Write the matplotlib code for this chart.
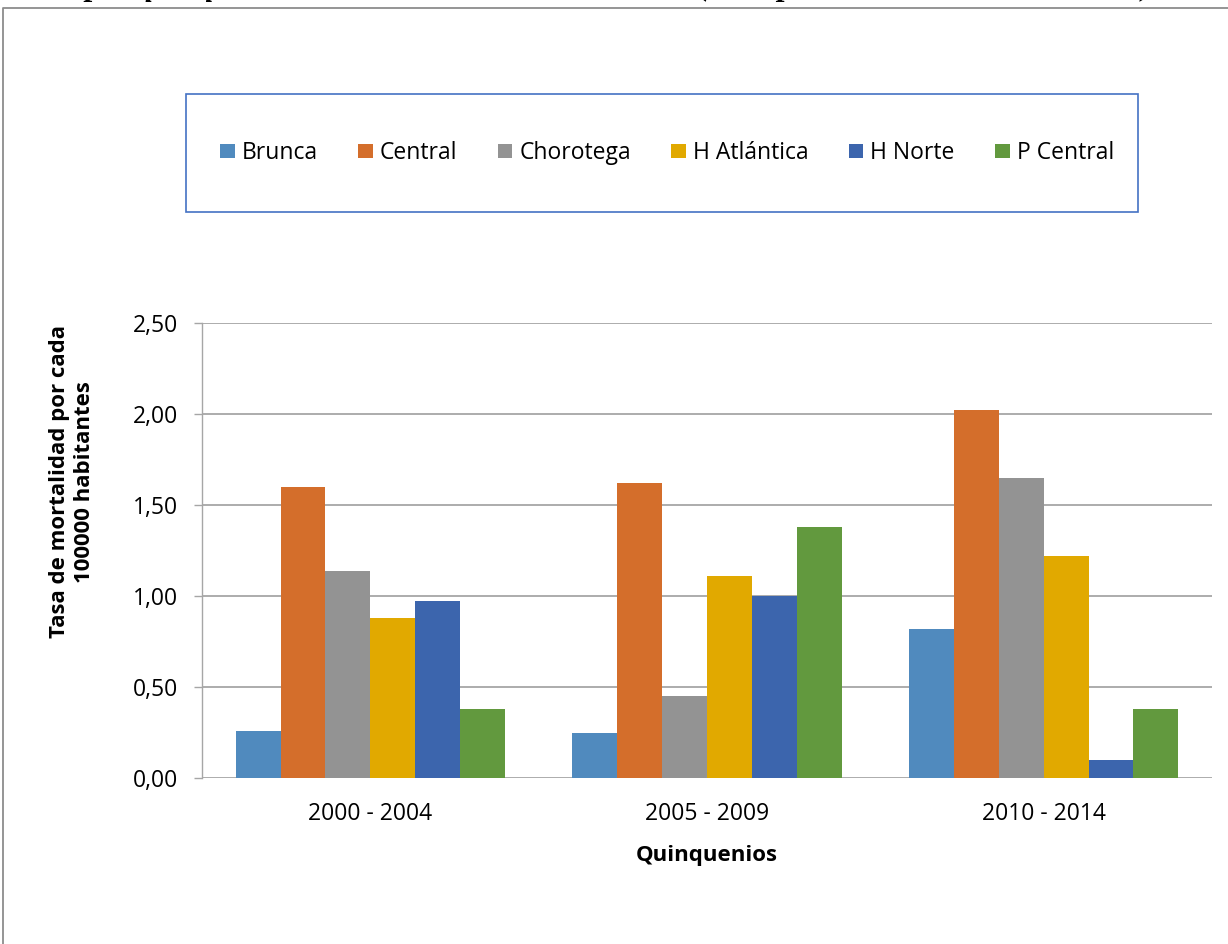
import matplotlib
matplotlib.use("Agg")
import matplotlib.pyplot as plt
import numpy as np
from matplotlib.patches import Rectangle
from matplotlib.lines import Line2D

# --- DATA ---
periods = ["2000 - 2004", "2005 - 2009", "2010 - 2014"]
regions = ["Brunca", "Central", "Chorotega", "H Atlántica", "H Norte", "P Central"]
brunca = [0.26, 0.25, 0.82]
central = [1.60, 1.62, 2.02]
chorotega = [1.14, 0.45, 1.65]
h_atlantica = [0.88, 1.11, 1.22]
h_norte = [0.97, 1.00, 0.10]
p_central = [0.38, 1.38, 0.38]
y_ticks = [0.0, 0.5, 1.0, 1.5, 2.0, 2.5]
y_tick_labels = ["0,00", "0,50", "1,00", "1,50", "2,00", "2,50"]

series = [brunca, central, chorotega, h_atlantica, h_norte, p_central]
colors = ["#508ABE", "#D46E2B", "#939393", "#E1A900", "#3C65AD", "#62993E"]

# --- STYLE ---
plt.rcParams["font.family"] = ["Open Sans", "DejaVu Sans"]
GRID = "#A6A6A6"
W, H = 1228, 944


def fx(px):
    return px / W


def fy(px):
    return 1 - px / H


fig = plt.figure(figsize=(W / 100, H / 100), dpi=100)
ax = fig.add_axes([fx(202), fy(778), fx(1212) - fx(202), fy(323) - fy(778)])

x = np.arange(len(periods))
bar_w = 0.8 / len(series)
for i, (vals, name, col) in enumerate(zip(series, regions, colors)):
    ax.bar(x + (i - 2.5) * bar_w, vals, width=bar_w, color=col, label=name,
           edgecolor="none", zorder=3)

ax.set_xlim(-0.5, len(periods) - 0.5)
ax.set_ylim(0, 2.5)
ax.set_yticks(y_ticks)
ax.set_yticklabels(y_tick_labels)
ax.set_xticks(x)
ax.set_xticklabels(periods)

ax.grid(axis="y", color=GRID, linewidth=1.3, zorder=0)
for s in ["top", "right", "bottom"]:
    ax.spines[s].set_visible(False)
ax.spines["left"].set_color(GRID)
ax.spines["left"].set_linewidth(1.0)
ax.tick_params(axis="y", length=5.5, width=1.0, color=GRID, pad=12, labelsize=16.5)
ax.tick_params(axis="x", length=0, pad=17, labelsize=16.5)

ax.set_xlabel("Quinquenios", fontweight="bold", fontsize=16, labelpad=14)
fig.text(fx(72), fy(482), "Tasa de mortalidad por cada\n100000 habitantes",
         rotation=90, ha="center", va="center", fontweight="bold", fontsize=16,
         multialignment="center")

# Legend + box
fig.legend(loc="center", bbox_to_anchor=(fx(667), fy(153)), ncol=6, frameon=False,
           fontsize=16.5, handlelength=0.65, handleheight=0.61, handletextpad=0.3,
           columnspacing=1.75)
fig.add_artist(Rectangle((fx(186), fy(212)), fx(1138) - fx(186), fy(94) - fy(212),
                         transform=fig.transFigure, fill=False, edgecolor="#4472C4", lw=1.2))

# Outer chart frame (runs off the right and bottom)
fig.add_artist(Line2D([fx(3), fx(3), 1.0], [0.0, fy(8), fy(8)],
                      transform=fig.transFigure, color="#8C8C8C", lw=1.3))

# Caption above the chart, mostly cut off by the top edge as in the source page
fig.text(fx(1160), fy(-5),
         "ación por quinquenio en Costa Rica del 2000 - 2014 (Tasa por cada 100000 habitantes).",
         ha="right", va="baseline", fontsize=23, fontweight="bold", fontstyle="italic",
         family="Liberation Serif")

fig.savefig("out.png", dpi=100)
plt.close(fig)
